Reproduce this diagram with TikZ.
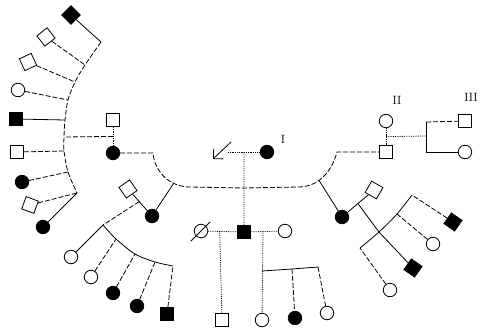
\documentclass[tikz,border=0pt]{standalone}
\usetikzlibrary{arrows.meta}
\tikzset{
    male-sym/.style = {draw, rectangle, minimum size=13pt, inner sep=0pt, line width=0.8pt},
    female-sym/.style = {draw, circle, minimum size=13.5pt, inner sep=0pt, line width=0.8pt},
    affected/.style = {fill=black},
    gen-label/.style = {font=\large},
    tie-line/.style = {line width=0.8pt},
    dash-line/.style = {line width=0.8pt, dash pattern=on 5pt off 2pt},
    dot-line/.style = {line width=0.8pt, densely dotted},
}

\begin{document}
\begin{tikzpicture}[x=1pt, y=-1pt]
\useasboundingbox (0,0) rectangle (482,330);

% generation I
\coordinate (I1) at (228,152);
\node[female-sym, affected] (I2) at (267,152) {};
\coordinate (arrow-start) at (231,142);
\coordinate (arrow-end) at (213,159);
\draw[tie-line, -{Straight Barb[length=7pt,width=14pt]}] (arrow-start) -- (arrow-end);
\draw[dot-line] (I1) -- coordinate[pos=0.5] (cp0) (I2);
\node[gen-label] (lab-I) at (283,139) {I};
\node[gen-label] (lab-II) at (397,100) {II};
\node[gen-label] (lab-III) at (471,97) {III};

% generation II
\node[male-sym] (II1) at (113,120) {};
\node[female-sym, affected] (II2) at (113,153) {};
\node[male-sym, rotate=35] (II3) at (128,189) {};
\node[female-sym, affected] (II4) at (152,216) {};
\node[female-sym] (II5) at (201,231) {};
\node[male-sym, affected] (II6) at (244,232) {};
\node[female-sym] (II7) at (285,231) {};
\node[female-sym, affected] (II8) at (342,217) {};
\node[male-sym, rotate=-30] (II9) at (374,190) {};
\node[female-sym] (II10) at (386,121) {};
\node[male-sym] (II11) at (386,152) {};
\draw[tie-line] ([shift={(-5,5)}]II5.south west) -- ([shift={(4,-4)}]II5.north east);

\coordinate (sib-mid) at (244,188);
\draw[dash-line] (II2) -- (153,153)
    to[out=-85,in=180] coordinate[pos=0.7] (sib-left) (190,187)
    -- (sib-mid) -- (298,187)
    to[out=0,in=-105] coordinate[pos=0.4] (sib-right) (337,152) -- (II11);
\draw[dot-line] (cp0) -- (sib-mid) -- (II6);
\draw[tie-line] (sib-left) -- (II4);
\draw[tie-line] (sib-right) -- (II8);

% couples of generation II
\draw[dot-line] (II1) -- coordinate[pos=0.5] (cp1) (II2);
\draw[tie-line] (II3) -- coordinate[pos=0.45] (cp2) (II4);
\draw[dot-line] (II5) -- coordinate[pos=0.4] (cp3) (II6);
\draw[dot-line] (II6) -- coordinate[pos=0.45] (cp4) (II7);
\draw[tie-line] (II8) -- coordinate[pos=0.5] (cp5) (II9);
\draw[dot-line] (II10) -- coordinate[pos=0.5] (cp6) (II11);

% generation III, left fan
\coordinate (s1a) at (101,42);
\coordinate (s1b) at (85,65);
\coordinate (s1c) at (75,82);
\coordinate (s1d) at (68,100);
\coordinate (s1e) at (65,120);
\coordinate (s1f) at (64,137);
\coordinate (s1g) at (64,151);
\coordinate (s1h) at (68,172);
\coordinate (s1i) at (77,193);
\draw[dash-line] plot[smooth] coordinates {(s1a) (s1b) (s1c) (s1d) (s1e) (s1f) (s1g) (s1h) (s1i)};
\draw[dash-line] (cp1) -- (s1f);

\node[male-sym, affected, rotate=45] (III1) at (71,15) {};
\node[male-sym, rotate=38] (III2) at (46,37) {};
\node[male-sym, rotate=25] (III3) at (28,62) {};
\node[female-sym] (III4) at (18,90) {};
\node[male-sym, affected] (III5) at (16,119) {};
\node[male-sym] (III6) at (17,152) {};
\node[female-sym, affected] (III7) at (22,182) {};
\node[male-sym, rotate=-20] (III8) at (30,205) {};
\node[female-sym, affected] (III9) at (43,227) {};
\foreach \a/\b in {III1/s1a, III5/s1e, III9/s1i}
    \draw[tie-line] (\a) -- (\b);
\foreach \a/\b in {III2/s1b, III3/s1c, III4/s1d, III6/s1g, III7/s1h, III8/s1i}
    \draw[dash-line] (\a) -- (\b);

% generation III, second fan
\coordinate (s2a) at (103,225);
\coordinate (s2b) at (116,239);
\coordinate (s2c) at (135,254);
\coordinate (s2d) at (155,262);
\coordinate (s2e) at (173,266);
\draw[tie-line] plot[smooth] coordinates {(s2a) (s2b) (s2c) (s2d) (s2e)};
\draw[dash-line] (cp2) -- (s2a);

\node[female-sym] (III10) at (71,257) {};
\node[female-sym] (III11) at (91,277) {};
\node[female-sym, affected] (III12) at (113,293) {};
\node[female-sym, affected] (III13) at (137,306) {};
\node[male-sym, affected] (III14) at (167,314) {};
\draw[tie-line] (III10) -- (s2a);
\foreach \a/\b in {III11/s2b, III12/s2c, III13/s2d, III14/s2e}
    \draw[dash-line] (\a) -- (\b);

% generation III, centre
\node[male-sym] (III15) at (222,320) {};
\node[female-sym] (III16) at (262,320) {};
\node[female-sym, affected] (III17) at (295,318) {};
\node[female-sym] (III18) at (327,313) {};
\coordinate (s3a) at (262,271);
\coordinate (s3b) at (292,269);
\coordinate (s3c) at (318,267);
\draw[dot-line] (cp3) -- (III15);
\draw[dot-line] (cp4) -- (III16);
\draw[tie-line] (s3a) -- (s3b) -- (s3c);
\draw[dash-line] (s3b) -- (III17);
\draw[dash-line] (s3c) -- (III18);

% generation III, right fan
\coordinate (s4a) at (360,248);
\coordinate (s4b) at (379,232);
\coordinate (s4c) at (397,214);
\coordinate (s4d) at (412,195);
\draw[tie-line] plot[smooth] coordinates {(s4a) (s4b) (s4c) (s4d)};
\draw[tie-line] (cp5) -- (s4b);

\node[male-sym, affected, rotate=-35] (III19) at (453,222) {};
\node[female-sym] (III20) at (433,244) {};
\node[male-sym, affected, rotate=-35] (III21) at (413,268) {};
\node[female-sym] (III22) at (390,290) {};
\draw[tie-line] (s4b) -- (III21);
\foreach \a/\b in {III19/s4d, III20/s4c, III22/s4a}
    \draw[dash-line] (\a) -- (\b);

% generation III, far right
\coordinate (s5a) at (426,122);
\coordinate (s5m) at (426,136);
\coordinate (s5b) at (426,152);
\node[male-sym] (III23) at (465,121) {};
\node[female-sym] (III24) at (465,152) {};
\draw[dot-line] (cp6) -- (s5m);
\draw[tie-line] (s5a) -- (s5b);
\draw[dash-line] (s5a) -- (III23);
\draw[tie-line] (s5b) -- (III24);
\end{tikzpicture}
\end{document}
